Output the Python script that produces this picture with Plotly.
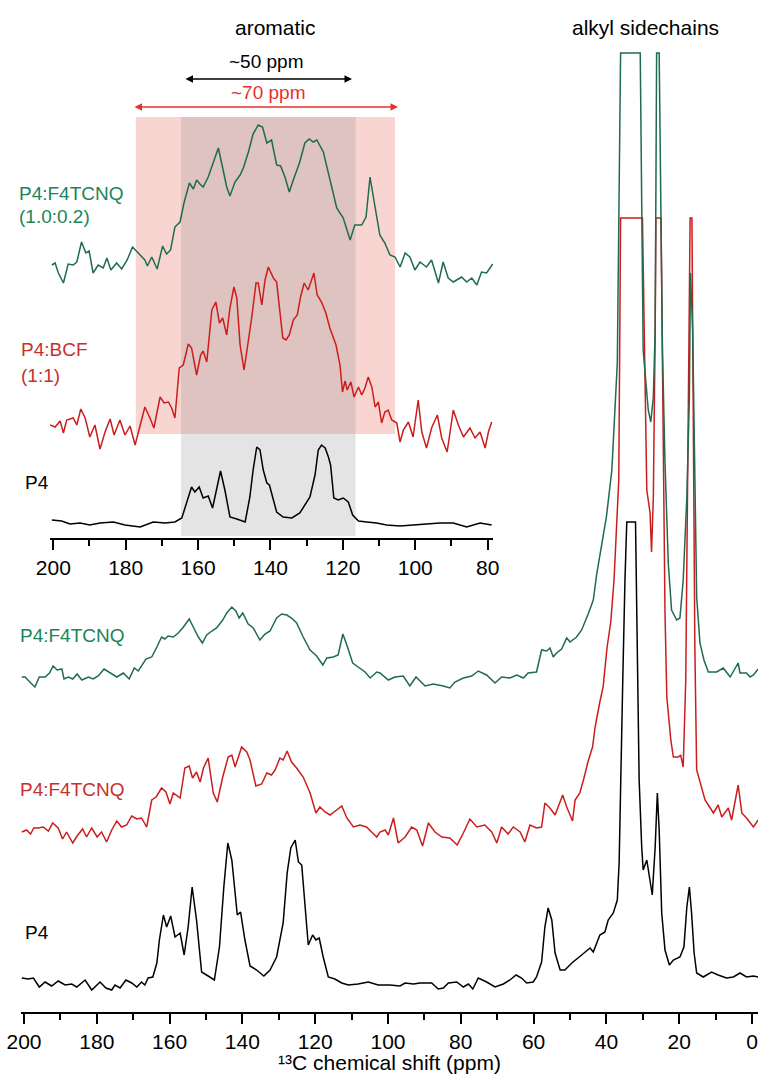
import plotly.graph_objects as go

# ---------------- main spectra (ppm, intensity a.u. above own baseline) ----------------
main_green_ppm = [200.6, 199.7, 198.4, 197.0, 195.8, 194.2, 193.0, 192.0, 190.9, 189.6,
                  189.0, 187.8, 186.6, 185.4, 184.1, 182.3, 181.0, 179.6, 178.0, 176.4,
                  174.5, 172.7, 171.1, 169.7, 168.6, 166.5, 164.9, 163.5, 162.2, 161.3,
                  160.4, 159.0, 157.6, 156.2, 154.6, 153.5, 152.1, 151.0, 149.8, 148.4,
                  147.1, 145.4, 144.3, 142.9, 141.8, 140.9, 139.9, 138.4, 137.0, 135.2,
                  133.8, 132.4, 130.6, 129.2, 127.8, 126.5, 125.1, 123.3, 121.4, 119.6,
                  117.9, 116.8, 115.0, 113.7, 112.4, 111.3, 109.7, 108.2, 106.3, 104.9,
                  103.1, 102.2, 99.9, 98.1, 95.8, 94.0, 92.3, 89.8, 87.6, 84.8,
                  83.0, 81.6, 79.3, 77.0, 75.2, 72.9, 70.6, 68.8, 66.5, 64.6,
                  62.8, 61.5, 59.2, 57.8, 56.4, 55.5, 54.6, 53.7, 52.3, 50.9,
                  50.0, 48.2, 46.8, 45.0, 43.6, 42.7, 42.0, 40.0, 38.5, 37.6,
                  37.0, 36.1, 30.7, 29.9, 28.5, 27.8, 27.1, 26.6, 26.2, 25.5,
                  24.6, 23.9, 23.0, 22.1, 20.7, 19.8, 18.9, 17.9, 17.2, 16.9,
                  16.3, 15.2, 14.3, 13.2, 12.0, 9.7, 7.9, 6.0, 3.8, 3.3,
                  1.5, 0.5, -0.4, -1.7]
main_green_int = [5, 5, 0, -5, 5, 5, 9, 16, 12, 13,
                  3, 5, 3, 8, 2, 5, 3, 6, 13, 9,
                  5, 9, 3, 14, 11, 23, 25, 35, 45, 43,
                  46, 45, 49, 55, 63, 55, 45, 39, 47, 51,
                  54, 62, 69, 75, 71, 64, 69, 58, 54, 42,
                  48, 51, 64, 68, 67, 64, 59, 45, 32, 26,
                  17, 24, 25, 27, 48, 37, 19, 15, 10, 4,
                  10, 9, 2, 5, 6, -4, 5, -4, -2, -4,
                  -6, 0, 4, 6, 11, 7, -1, 5, 4, 7,
                  4, 9, 10, 32, 31, 34, 25, 29, 33, 44,
                  40, 45, 52, 68, 82, 107, 122, 165, 212, 269,
                  319, 629, 629, 332, 272, 260, 285, 352, 629, 629,
                  332, 219, 119, 72, 62, 64, 102, 185, 285, 409,
                  352, 85, 39, 22, 10, 10, 14, 5, 19, 9,
                  9, 5, 7, 13]

main_red_ppm = [200.6, 199.3, 198.2, 197.3, 196.1, 194.7, 193.3, 192.1, 190.6, 189.4,
                188.3, 186.6, 185.4, 183.9, 182.8, 181.4, 179.9, 178.7, 177.3, 175.9,
                174.5, 173.2, 171.8, 170.4, 169.0, 167.7, 166.3, 164.9, 163.7, 162.2,
                161.0, 159.9, 159.0, 157.1, 155.8, 154.6, 153.7, 152.6, 151.6, 150.7,
                149.4, 148.0, 146.9, 145.4, 143.9, 142.9, 142.0, 141.1, 140.2, 138.8,
                137.9, 136.3, 134.7, 133.3, 132.0, 131.0, 129.7, 128.8, 127.7, 126.5,
                125.1, 123.3, 121.4, 119.8, 118.7, 117.3, 115.9, 114.1, 112.7, 111.3,
                109.5, 107.7, 105.9, 104.5, 103.1, 102.2, 100.8, 99.9, 98.5, 97.2,
                95.3, 93.5, 92.1, 90.5, 88.9, 87.1, 85.2, 83.0, 81.0, 79.3,
                77.5, 75.6, 73.4, 71.5, 70.1, 68.8, 67.0, 65.6, 63.7, 62.4,
                61.0, 59.2, 57.8, 56.9, 55.5, 54.1, 52.0, 50.9, 49.3, 48.6,
                47.3, 46.3, 45.0, 43.8, 43.1, 41.8, 40.9, 39.8, 38.8, 37.9,
                37.2, 36.6, 36.1, 30.1, 28.9, 28.0, 27.6, 27.1, 26.6, 26.4,
                25.0, 24.4, 23.9, 23.4, 22.3, 21.6, 20.2, 19.6, 18.9, 18.2,
                17.8, 17.0, 16.5, 16.1, 15.7, 15.2, 13.8, 12.9, 12.0, 10.6,
                9.3, 8.3, 6.5, 5.6, 3.8, 2.8, 1.5, -0.4, -1.7]
main_red_int = [6, 8, 4, 10, 10, 11, 7, 15, 10, -1,
                6, -5, 2, 9, 1, 10, 1, 6, -4, 8,
                17, 11, 13, 22, 19, 20, 11, 38, 41, 50,
                46, 34, 45, 40, 70, 72, 60, 66, 56, 70,
                80, 45, 36, 61, 81, 83, 71, 81, 91, 86,
                78, 52, 54, 65, 63, 68, 80, 78, 87, 76,
                70, 61, 45, 25, 31, 26, 23, 28, 32, 20,
                11, 13, 11, 6, 1, 6, 8, 3, 20, -5,
                1, 11, 8, -8, 15, 6, 1, 0, -7, 5,
                19, 11, 13, 6, -5, 11, 4, 11, 6, -4,
                13, 10, 11, 35, 30, 23, 43, 31, 17, 38,
                45, 58, 77, 91, 111, 136, 151, 191, 216, 258,
                308, 358, 620, 620, 348, 325, 286, 341, 508, 620,
                620, 358, 225, 141, 98, 81, 81, 83, 71, 158,
                291, 620, 620, 358, 191, 68, 51, 38, 33, 25,
                33, 21, 30, 18, 53, 25, 20, 11, 18]

main_black_ppm = [200.6, 198.8, 197.4, 195.8, 194.2, 192.4, 190.6, 188.7, 186.9, 185.5,
                  183.2, 181.4, 179.1, 177.5, 175.9, 175.0, 173.6, 172.0, 170.4, 169.0,
                  167.7, 166.8, 165.9, 164.6, 163.5, 162.8, 161.7, 160.8, 159.7, 158.5,
                  157.1, 156.0, 154.9, 153.8, 152.6, 151.2, 149.4, 147.7, 146.3, 145.1,
                  144.0, 142.9, 142.0, 141.4, 140.5, 139.3, 137.9, 136.1, 134.1, 132.4,
                  130.6, 128.8, 127.7, 126.7, 125.5, 124.6, 123.7, 122.8, 121.9, 120.7,
                  119.8, 118.9, 117.8, 116.4, 114.6, 112.7, 110.9, 108.2, 105.4, 102.7,
                  99.5, 96.7, 95.3, 93.0, 91.2, 88.0, 86.2, 84.8, 83.4, 81.1,
                  79.3, 77.9, 76.7, 75.2, 72.9, 70.6, 68.3, 66.5, 64.8, 63.3,
                  61.9, 60.1, 59.2, 57.8, 56.9, 56.0, 55.0, 54.1, 52.7, 51.4,
                  49.5, 46.8, 44.5, 43.6, 41.8, 40.4, 39.5, 38.1, 37.0, 36.5,
                  36.1, 35.5, 34.9, 34.4, 32.0, 31.5, 31.0, 30.3, 29.9, 28.9,
                  28.2, 27.4, 26.6, 26.0, 25.5, 24.8, 23.9, 22.7, 21.6, 19.8,
                  18.7, 17.9, 17.2, 16.6, 15.9, 15.2, 13.4, 11.1, 9.3, 7.0,
                  5.1, 3.3, 1.5, -0.4, -1.7]
main_black_int = [5, 4, 5, -4, 1, -3, 2, -2, -1, -4,
                  3, -7, 1, -5, -7, -2, -5, 3, 0, -4,
                  1, -2, 5, 6, 20, 43, 68, 56, 67, 46,
                  50, 28, 56, 96, 63, 11, 7, 3, 36, 96,
                  140, 123, 90, 68, 71, 43, 17, 13, 7, 13,
                  26, 60, 110, 135, 143, 121, 118, 76, 38, 48,
                  43, 45, 26, 6, 4, 0, -2, -1, 1, -2,
                  -2, -3, 0, -1, 0, 0, -6, -5, 0, 1,
                  -4, -1, -6, 5, 1, -4, -1, 3, 8, 5,
                  0, 1, 6, 21, 56, 75, 63, 30, 13, 13,
                  20, 28, 35, 31, 48, 51, 63, 70, 83, 120,
                  203, 303, 403, 461, 461, 336, 203, 136, 113, 123,
                  106, 88, 136, 190, 153, 70, 33, 18, 23, 26,
                  36, 76, 96, 70, 30, 10, 6, 11, 8, 5,
                  6, 10, 6, 7, 6]

# ---------------- inset spectra (aromatic region) ----------------
inset_green_ppm = [200.4, 199.5, 198.6, 197.2, 195.9, 194.5, 193.5, 192.2, 191.0, 190.1,
                   189.0, 187.6, 186.2, 185.2, 184.1, 182.5, 181.1, 179.6, 178.1, 176.5,
                   174.7, 174.0, 172.8, 171.3, 169.8, 168.7, 167.6, 166.4, 165.0, 163.9,
                   162.4, 161.3, 160.4, 159.5, 158.6, 157.2, 155.8, 154.4, 153.2, 152.1,
                   151.2, 149.8, 148.4, 147.5, 146.1, 144.8, 143.4, 142.2, 141.0, 139.7,
                   138.3, 137.2, 136.0, 134.8, 133.7, 132.0, 130.5, 129.3, 128.2, 127.2,
                   125.4, 123.6, 121.7, 119.9, 118.0, 116.7, 114.8, 113.6, 112.5, 111.3,
                   109.8, 108.4, 107.0, 105.6, 104.2, 102.8, 101.5, 100.1, 98.7, 96.9,
                   95.5, 93.6, 92.3, 90.9, 89.5, 87.2, 85.8, 84.4, 83.0, 81.7,
                   80.3, 78.6]
inset_green_int = [3, 5, -5, -15, 4, 3, 6, 26, 15, 17,
                   -5, 3, 0, 10, -2, 5, -1, 8, 21, 15,
                   8, 2, 11, -1, 22, 14, 18, 41, 46, 65,
                   85, 79, 88, 84, 81, 91, 105, 120, 100, 81,
                   72, 86, 93, 100, 116, 134, 143, 141, 125, 128,
                   103, 102, 91, 76, 88, 105, 125, 129, 126, 128,
                   116, 88, 60, 50, 28, 43, 43, 51, 91, 65,
                   33, 25, 13, 11, 1, 15, 11, -2, 6, 1,
                   8, -15, 6, -10, -14, -9, -14, -10, -17, -4,
                   -5, 4]

inset_red_ppm = [200.9, 199.5, 198.1, 197.2, 196.3, 194.5, 193.5, 192.4, 191.2, 189.9,
                 188.5, 187.1, 185.7, 184.3, 183.2, 181.6, 180.2, 178.8, 177.4, 176.0,
                 174.7, 173.3, 172.2, 170.5, 169.4, 168.2, 167.3, 166.4, 165.2, 164.1,
                 162.7, 161.8, 160.4, 159.3, 158.6, 157.6, 156.2, 155.1, 154.1, 153.2,
                 152.1, 151.2, 150.1, 149.3, 148.4, 147.3, 146.1, 145.2, 144.0, 143.4,
                 142.4, 141.5, 140.6, 139.2, 138.3, 137.4, 136.6, 135.7, 134.8, 133.7,
                 132.6, 131.7, 130.7, 129.6, 128.9, 128.0, 127.1, 125.9, 124.7, 123.6,
                 121.9, 120.8, 120.1, 119.4, 118.8, 117.8, 116.9, 115.7, 114.8, 113.9,
                 113.0, 112.0, 111.1, 110.2, 109.3, 108.4, 107.5, 106.5, 105.1, 104.2,
                 103.3, 101.9, 100.6, 99.2, 98.2, 96.9, 95.5, 93.9, 92.7, 91.2,
                 89.5, 88.1, 86.7, 84.9, 83.5, 82.1, 80.7, 79.8, 78.9]
inset_red_int = [3, 1, 7, -5, 8, 10, 3, 19, 10, -9,
                 3, -21, -4, 9, -7, 8, -7, 2, -17, 3,
                 21, 10, 0, 31, 25, 26, 20, 10, 60, 63,
                 84, 80, 53, 73, 77, 66, 118, 126, 105, 110,
                 93, 120, 141, 130, 83, 58, 86, 110, 145, 145,
                 123, 148, 161, 150, 146, 116, 90, 88, 93, 108,
                 113, 131, 145, 138, 146, 155, 133, 126, 115, 100,
                 83, 63, 36, 47, 38, 46, 31, 41, 33, 40,
                 51, 41, 21, 26, 5, 16, 18, 8, 5, -14,
                 -2, 6, -9, 28, -4, -20, 0, 13, -10, -24,
                 18, 3, -9, 0, -10, -4, -20, -4, 6]

inset_black_ppm = [200.4, 197.7, 195.4, 192.6, 189.9, 187.1, 183.4, 180.2, 176.0, 172.4,
                   169.1, 166.4, 164.5, 163.1, 161.8, 160.9, 159.7, 158.6, 157.2, 156.0,
                   154.9, 153.8, 152.6, 151.2, 149.3, 147.0, 145.7, 144.8, 143.8, 142.9,
                   142.0, 141.0, 140.3, 139.4, 138.3, 136.5, 134.1, 131.9, 129.1, 127.7,
                   126.8, 125.9, 124.9, 124.0, 123.4, 122.5, 121.3, 119.9, 118.5, 117.3,
                   115.7, 113.4, 110.7, 107.9, 104.2, 100.6, 96.9, 93.2, 89.5, 85.8,
                   82.1, 78.9]
inset_black_int = [3, 2, -1, 0, -2, 0, 1, -2, -4, 1,
                   0, 1, 5, 20, 36, 31, 36, 25, 27, 15,
                   33, 52, 33, 6, 4, 1, 26, 53, 76, 73,
                   53, 40, 38, 26, 11, 6, 5, 10, 26, 48,
                   73, 78, 75, 66, 58, 25, 23, 25, 21, 8,
                   2, 1, 0, -2, -3, -2, -1, 0, 0, -4,
                   0, -2]

main_ticks = [200, 180, 160, 140, 120, 100, 80, 60, 40, 20, 0]
inset_ticks = [200, 180, 160, 140, 120, 100, 80]

# shaded ranges (ppm) in the inset
pink_range = (177.2, 105.6)
gray_range = (164.7, 116.5)

# ---------------- styling / layout ----------------
W, H = 759, 1074
FONT = "Liberation Sans, Arial, sans-serif"
GREEN = "#1f6b4e"
GREEN_TXT = "#1b8558"
RED = "#cc1d1d"
RED_TXT = "#c9302c"
ARROW_RED = "#e8302a"

# stacking offsets (vertical, in intensity units)
off_main = {"green": 330, "red": 174, "black": 29}
off_inset = {"green": 270, "red": 110, "black": 15}

fig = go.Figure()


def add(ppm, inten, off, color, xa, ya):
    fig.add_trace(go.Scatter(x=ppm, y=[v + off for v in inten], mode="lines",
                             line=dict(color=color, width=1.5), xaxis=xa, yaxis=ya,
                             hoverinfo="skip", showlegend=False))


add(main_black_ppm, main_black_int, off_main["black"], "black", "x", "y")
add(main_red_ppm, main_red_int, off_main["red"], RED, "x", "y")
add(main_green_ppm, main_green_int, off_main["green"], GREEN, "x", "y")
add(inset_black_ppm, inset_black_int, off_inset["black"], "black", "x2", "y2")
add(inset_red_ppm, inset_red_int, off_inset["red"], RED, "x2", "y2")
add(inset_green_ppm, inset_green_int, off_inset["green"], GREEN, "x2", "y2")

main_ax_px = 1012
inset_ax_px = 538

axis_common = dict(showline=True, linecolor="black", linewidth=1.5, ticks="outside",
                   ticklen=10, tickwidth=1.5, tickcolor="black", showgrid=False,
                   zeroline=False, automargin=False,
                   tickfont=dict(family=FONT, size=21, color="black"),
                   minor=dict(ticks="outside", ticklen=6, tickwidth=1.5, tickcolor="black",
                              dtick=10, tick0=0, showgrid=False))

fig.update_layout(
    width=W, height=H, margin=dict(l=0, r=0, t=0, b=0, autoexpand=False),
    paper_bgcolor="white", plot_bgcolor="rgba(0,0,0,0)",
    xaxis=dict(domain=[21 / W, 758 / W], range=[200.82, -1.65], anchor="y",
               tickvals=main_ticks, ticktext=[str(t) for t in main_ticks],
               title=dict(text="¹³C chemical shift (ppm)",
                          font=dict(family=FONT, size=21, color="black"), standoff=1),
               **axis_common),
    yaxis=dict(domain=[(H - main_ax_px) / H, 1], range=[0, main_ax_px], visible=False,
               automargin=False),
    xaxis2=dict(domain=[50 / W, 493 / W], range=[200.91, 78.53], anchor="y2",
                tickvals=inset_ticks, ticktext=[str(t) for t in inset_ticks],
                **axis_common),
    yaxis2=dict(domain=[(H - inset_ax_px) / H, 1], range=[0, inset_ax_px], visible=False,
                automargin=False),
)

# shaded boxes in inset
fig.add_shape(type="rect", xref="x2", yref="y2", x0=pink_range[0], x1=pink_range[1],
              y0=104, y1=421, fillcolor="rgba(231,87,75,0.25)", line_width=0, layer="below")
fig.add_shape(type="rect", xref="x2", yref="y2", x0=gray_range[0], x1=gray_range[1],
              y0=2, y1=421, fillcolor="rgba(128,128,128,0.21)", line_width=0, layer="below")


def px(x, y):
    return x / W, 1 - y / H


def text(s, x, y, color="black", size=19, anchor="left"):
    xx, yy = px(x, y)
    fig.add_annotation(text=s, x=xx, y=yy, xref="paper", yref="paper", showarrow=False,
                       xanchor=anchor, yanchor="middle",
                       font=dict(family=FONT, size=size, color=color))


text("aromatic", 275, 27, size=21, anchor="center")
text("alkyl sidechains", 645, 27, size=21, anchor="center")
text("~50 ppm", 266, 62, size=19, anchor="center")
text("~70 ppm", 268, 93, color=ARROW_RED, size=19, anchor="center")

text("P4:F4TCNQ", 17, 193, color=GREEN_TXT)
text("(1.0:0.2)", 17, 217, color=GREEN_TXT)
text("P4:BCF", 19, 350, color=RED_TXT)
text("(1:1)", 19, 375, color=RED_TXT)
text("P4", 23, 482)
text("P4:F4TCNQ", 18, 635, color=GREEN_TXT)
text("P4:F4TCNQ", 18, 790, color=RED_TXT)
text("P4", 23, 932)


def arrow(x0, x1, y, color):
    xx, yy = px(x1, y)
    fig.add_annotation(text="", x=xx, y=yy, xref="paper", yref="paper", ax=x0 - x1, ay=0,
                       axref="pixel", ayref="pixel", showarrow=True, arrowhead=2,
                       startarrowhead=2, arrowside="end+start", arrowsize=1,
                       startarrowsize=1, arrowwidth=1.5, arrowcolor=color)


arrow(184, 352, 79, "black")
arrow(133, 398, 107, ARROW_RED)

fig.write_html("out.html", config={"displayModeBar": False},
               post_script="document.body.style.margin='0';document.body.style.overflow='hidden';")
